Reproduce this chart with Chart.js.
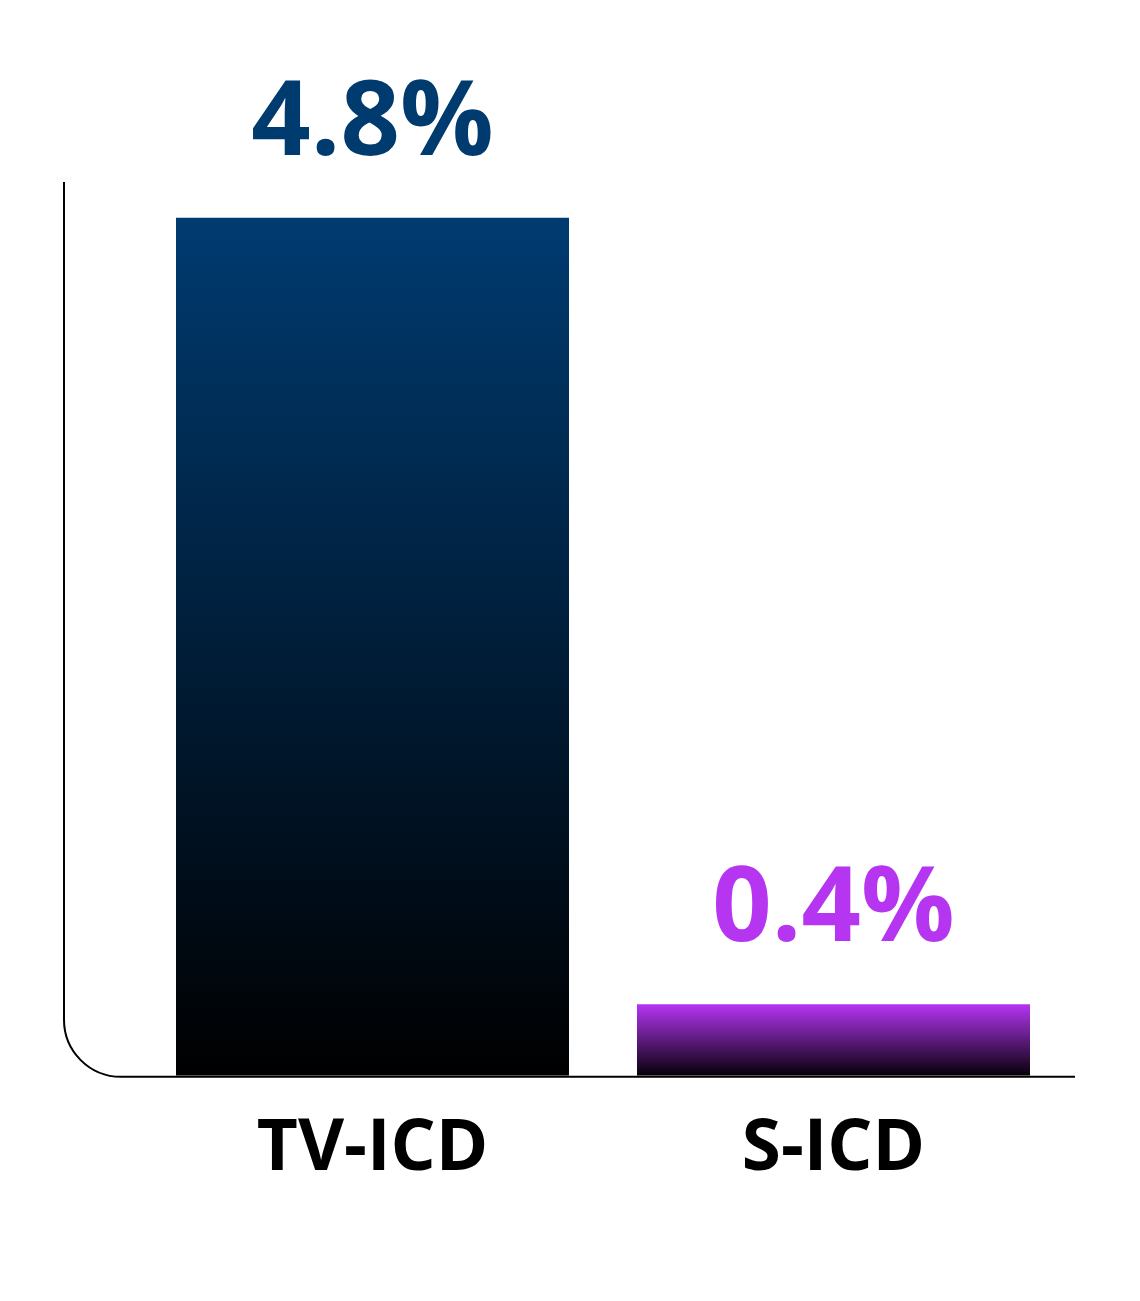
<!DOCTYPE html>
<html>
<head>
<meta charset="utf-8">
<script src="https://cdn.jsdelivr.net/npm/chart.js@4.4.1/dist/chart.umd.min.js"></script>
<style>
  html, body { margin: 0; padding: 0; background: #fff; }
  #wrap { width: 1140px; height: 1301px; position: relative; }
</style>
</head>
<body>
<div id="wrap"><canvas id="chart"></canvas></div>
<script>
/* Data */
var CATEGORIES = ['TV-ICD', 'S-ICD'];
var VALUES = [4.8, 0.4];
var VALUE_LABELS = ['4.8%', '0.4%'];
var Y_MAX = 5;

/* Colours: label colour, gradient top, gradient bottom */
var LABEL_COLORS = ['#003B70', '#B535F0'];
var GRAD_TOP = ['#003B71', '#B535F2'];
var GRAD_BOTTOM = ['#000000', '#050008'];

var FONT = "'Open Sans', 'Noto Sans', sans-serif";

/* Vertical gradient from the top of each bar down to the baseline */
function barGradient(ctx) {
  var chart = ctx.chart;
  var i = ctx.dataIndex;
  if (!chart.chartArea || !chart.scales.y) return GRAD_TOP[i];
  var y = chart.scales.y;
  var top = y.getPixelForValue(VALUES[i]);
  var bottom = y.getPixelForValue(0);
  var g = chart.ctx.createLinearGradient(0, top, 0, bottom);
  g.addColorStop(0, GRAD_TOP[i]);
  g.addColorStop(1, GRAD_BOTTOM[i]);
  return g;
}

/* Axis line with the rounded bottom-left corner */
var roundedAxis = {
  id: 'roundedAxis',
  beforeDatasetsDraw: function(chart) {
    var a = chart.chartArea, c = chart.ctx;
    var x0 = a.left - 78, y1 = a.bottom + 1, r = 57;
    c.save();
    c.strokeStyle = '#000';
    c.lineWidth = 2;
    c.beginPath();
    c.moveTo(x0, a.top);
    c.lineTo(x0, y1 - r);
    c.arcTo(x0, y1, x0 + r, y1, r);
    c.lineTo(a.right + 11, y1);
    c.stroke();
    c.restore();
  }
};

/* Value labels above each bar */
var valueLabels = {
  id: 'valueLabels',
  afterDatasetsDraw: function(chart) {
    var c = chart.ctx;
    var meta = chart.getDatasetMeta(0);
    c.save();
    c.font = '700 104px ' + FONT;
    c.textAlign = 'center';
    c.textBaseline = 'alphabetic';
    meta.data.forEach(function(bar, i) {
      c.fillStyle = LABEL_COLORS[i];
      c.fillText(VALUE_LABELS[i], bar.x, bar.y - 63);
    });
    c.restore();
  }
};

new Chart(document.getElementById('chart'), {
  type: 'bar',
  data: {
    labels: CATEGORIES,
    datasets: [{
      data: VALUES,
      backgroundColor: barGradient,
      borderWidth: 0,
      categoryPercentage: 1,
      barPercentage: 0.8525
    }]
  },
  options: {
    responsive: true, maintainAspectRatio: false, animation: false,
    layout: { padding: { left: 142, right: 76, top: 182, bottom: 78 } },
    plugins: { legend: { display: false }, tooltip: { enabled: false } },
    scales: {
      x: {
        grid: { display: false, drawTicks: false },
        border: { display: false },
        ticks: { color: '#000', padding: 31, maxRotation: 0, font: { family: FONT, size: 71, weight: 700 } }
      },
      y: { display: false, min: 0, max: Y_MAX }
    }
  },
  plugins: [roundedAxis, valueLabels]
});
</script>
</body>
</html>
